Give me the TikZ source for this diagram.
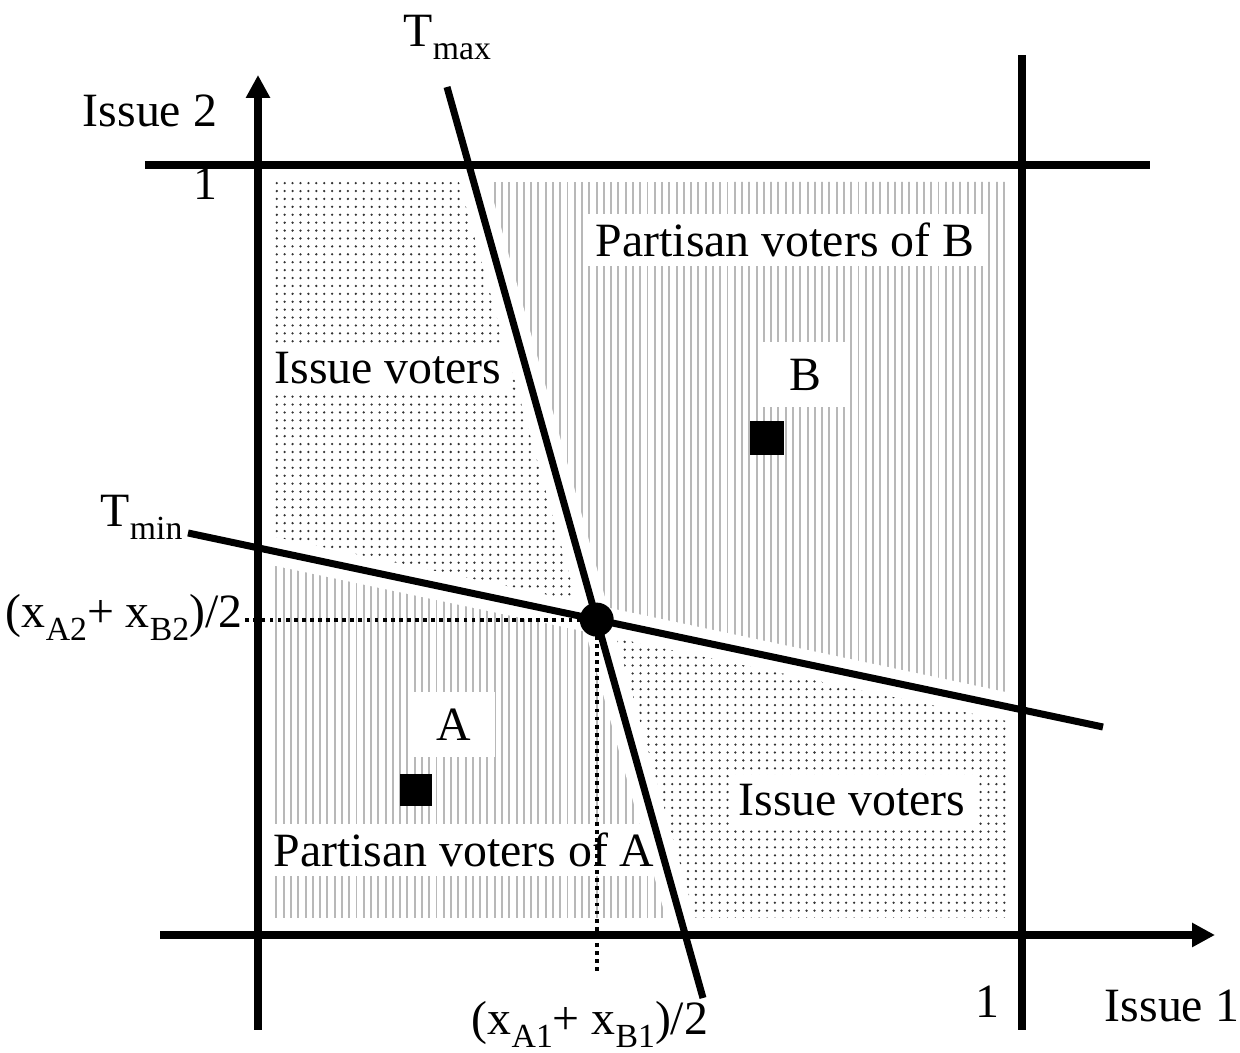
\documentclass[tikz,border=0pt]{standalone}
\usepackage{fontspec}
\setmainfont{Liberation Serif}
\usetikzlibrary{arrows.meta,patterns.meta}
\newcommand{\lowtext}[1]{\raisebox{-3.6pt}{\fontsize{9.6}{11}\selectfont #1}}

\begin{document}
\begin{tikzpicture}[
    every node/.style={font=\fontsize{13.6}{16}\selectfont},
    lbl/.style={inner sep=0pt},
    tag/.style={fill=white, inner sep=2.5pt},
    axisline/.style={line width=2pt},
    thresh/.style={line width=2pt},
    halo/.style={line width=8pt, white},
    dotfill/.style={pattern={Dots[distance=2.25pt, radius=0.36pt]}, pattern color=black!80},
    linefill/.style={pattern={Lines[angle=90, distance=2.07pt, line width=0.55pt]}, pattern color=black!28},
    guide/.style={line width=1.1pt, dash pattern=on 1.1pt off 1.2pt}
]
    \useasboundingbox (0,0) rectangle (12.4,10.53);

    % Shaded square and threshold lines
    \coordinate (ul) at (2.72,8.71);
    \coordinate (ur) at (10.07,8.71);
    \coordinate (ll) at (2.72,1.35);
    \coordinate (lr) at (10.07,1.35);
    \coordinate (tmaxtop) at (4.47,9.66);
    \coordinate (tmaxbot) at (7.03,0.55);
    \coordinate (tminl) at (1.88,5.20);
    \coordinate (tminr) at (11.03,3.26);
    \coordinate (mid) at (intersection of tmaxtop--tmaxbot and tminl--tminr);
    \coordinate (qtop) at (intersection of tmaxtop--tmaxbot and ul--ur);
    \coordinate (qbot) at (intersection of tmaxtop--tmaxbot and ll--lr);
    \coordinate (qleft) at (intersection of tminl--tminr and ul--ll);
    \coordinate (qright) at (intersection of tminl--tminr and ur--lr);

    % Regions: issue voters (dots), partisan voters (lines)
    \fill[dotfill] (ul) -- (qtop) -- (mid) -- (qleft) -- cycle;
    \fill[linefill] (qtop) -- (ur) -- (qright) -- (mid) -- cycle;
    \fill[linefill] (qleft) -- (mid) -- (qbot) -- (ll) -- cycle;
    \fill[dotfill] (mid) -- (qright) -- (lr) -- (qbot) -- cycle;
    \draw[halo] (tmaxtop) -- (tmaxbot);
    \draw[halo] (tminl) -- (tminr);

    % Region labels
    \node[tag] (partB) at (7.85,8.13) {Partisan voters of B};
    \node[tag] (issueTL) at (3.88,6.85) {Issue voters};
    \node[tag, minimum width=0.85cm, minimum height=0.65cm] (labB) at (8.05,6.78) {B};
    \node[tag, minimum width=0.82cm, minimum height=0.65cm] (labA) at (4.54,3.28) {A};
    \node[tag] (issueBR) at (8.52,2.53) {Issue voters};
    \node[tag] (partA) at (4.64,2.03) {Partisan voters of A};

    % Axes and unit lines
    \draw[axisline, -{Triangle[length=6.5pt, width=6.5pt]}] (2.58,0.23) -- (2.58,9.78);
    \draw[axisline, -{Triangle[length=6.5pt, width=6.5pt]}] (1.60,1.18) -- (12.15,1.18);
    \draw[axisline] (1.45,8.88) -- (11.50,8.88);
    \draw[axisline] (10.22,0.23) -- (10.22,9.98);

    % Midpoint guides
    \coordinate (gl) at (2.45,0);
    \coordinate (gb) at (0,0.78);
    \draw[guide] (mid) -- (mid -| gl);
    \draw[guide] (mid) -- (mid |- gb);

    % Threshold lines
    \draw[thresh] (tmaxtop) -- (tmaxbot);
    \draw[thresh] (tminl) -- (tminr);
    \fill (mid) circle (0.17);

    % Ideal points
    \fill (7.50,5.98) rectangle (7.84,6.32);
    \fill (4.00,2.47) rectangle (4.32,2.79);

    % Axis labels
    \node[lbl, anchor=base] (ax2) at (1.50,9.26) {Issue 2};
    \node[lbl, anchor=base] (one2) at (2.05,8.53) {1};
    \node[lbl, anchor=base] (ax1) at (11.72,0.31) {Issue 1};
    \node[lbl, anchor=base] (one1) at (9.87,0.35) {1};
    \node[lbl, anchor=base west] (tmax) at (4.03,10.06) {T\lowtext{max}};
    \node[lbl, anchor=base west] (tmin) at (1.00,5.26) {T\lowtext{min}};
    \node[lbl, anchor=base east] (midy) at (2.43,4.25) {(x\lowtext{A2}+ x\lowtext{B2})/2};
    \node[lbl, anchor=base] (midx) at (5.90,0.18) {(x\lowtext{A1}+ x\lowtext{B1})/2};
\end{tikzpicture}
\end{document}
